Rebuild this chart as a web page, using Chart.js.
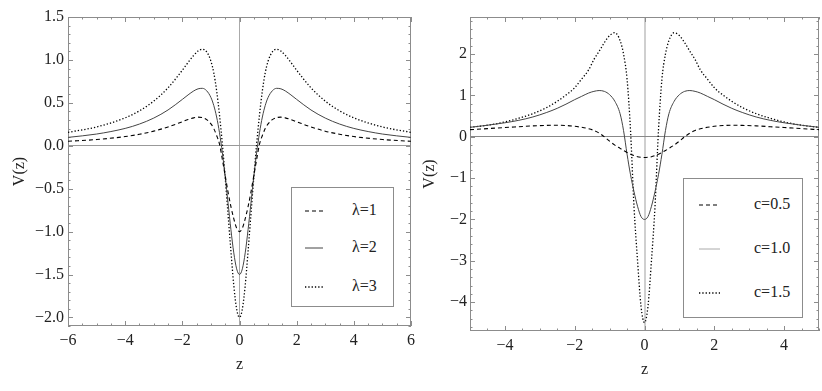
<!DOCTYPE html>
<html>
<head>
<meta charset="utf-8">
<script src="https://cdn.jsdelivr.net/npm/chart.js@4.4.1/dist/chart.umd.min.js"></script>
<style>
  body { margin: 0; background: #fff; }
  #wrap { position: relative; width: 822px; height: 391px; overflow: hidden; }
  canvas { position: absolute; top: 0; }
  .legend { position: absolute; border: 1px solid #8c8c8c; background: #fff; box-sizing: border-box; }
  .legend .row { position: absolute; left: 0; right: 0; height: 20px; }
  .legend svg { position: absolute; top: 4px; }
  .legend span { position: absolute; top: 0; line-height: 20px; font: 16px 'Liberation Serif', 'Times New Roman', serif; color: #222; white-space: nowrap; }
</style>
</head>
<body>
<div id="wrap">
  <canvas id="left" width="420" height="391" style="left:0"></canvas>
  <canvas id="right" width="402" height="391" style="left:420px"></canvas>
</div>
<script>
// left panel: V(z) for lambda = 1, 2, 3
const zLeft = [-6,-5,-4,-3.5,-3,-2.5,-2,-1.8,-1.6,-1.45,-1.3,-1.15,-1,-0.9,-0.8,-0.7,-0.6,-0.5,-0.4,-0.3,-0.2,-0.1,
  0,0.1,0.2,0.3,0.4,0.5,0.6,0.7,0.8,0.9,1,1.15,1.3,1.45,1.6,1.8,2,2.5,3,3.5,4,5,6];
const lambda1 = [0.052,0.0725,0.107,0.134,0.17,0.219,0.28,0.305,0.325,0.333,0.328,0.305,0.255,0.2,0.12,0.02,-0.16,-0.35,-0.54,-0.71,-0.85,-0.96,
  -1.0,-0.96,-0.85,-0.71,-0.54,-0.35,-0.16,0.02,0.12,0.2,0.255,0.305,0.328,0.333,0.325,0.305,0.28,0.219,0.17,0.134,0.107,0.0725,0.052];
const lambda2 = [0.0975,0.1365,0.202,0.253,0.3225,0.417,0.54,0.592,0.639,0.663,0.669,0.641,0.5625,0.469,0.335,0.152,-0.081,-0.36,-0.669,-0.978,-1.248,-1.434,
  -1.5,-1.434,-1.248,-0.978,-0.669,-0.36,-0.081,0.152,0.335,0.469,0.5625,0.641,0.669,0.663,0.639,0.592,0.54,0.417,0.3225,0.253,0.202,0.1365,0.0975];
const lambda3 = [0.156,0.219,0.325,0.407,0.52,0.675,0.88,0.97,1.054,1.103,1.125,1.095,0.985,0.85,0.64,0.36,0.02,-0.37,-0.8,-1.229,-1.627,-1.902,
  -2.0,-1.902,-1.627,-1.229,-0.8,-0.37,0.02,0.36,0.64,0.85,0.985,1.095,1.125,1.103,1.054,0.97,0.88,0.675,0.52,0.407,0.325,0.219,0.156];
const leftLabels = ['\u03bb=1', '\u03bb=2', '\u03bb=3'];
const leftXTicks = [-6, -4, -2, 0, 2, 4, 6];
const leftYTicks = [-2.0, -1.5, -1.0, -0.5, 0.0, 0.5, 1.0, 1.5];

// right panel: V(z) for c = 0.5, 1.0, 1.5
const zRight = [-5,-4.5,-4,-3.6,-3.2,-2.8,-2.5,-2.25,-2,-1.8,-1.6,-1.45,-1.3,-1.15,-1,-0.85,-0.7,-0.6,-0.5,-0.4,-0.3,-0.2,-0.1,
  0,0.1,0.2,0.3,0.4,0.5,0.6,0.7,0.85,1,1.15,1.3,1.45,1.6,1.8,2,2.25,2.5,2.8,3.2,3.6,4,4.5,5];
const c05 = [0.173,0.198,0.225,0.245,0.265,0.276,0.28,0.273,0.255,0.23,0.195,0.155,0.09,0.0,-0.105,-0.2,-0.28,-0.333,-0.378,-0.42,-0.455,-0.483,-0.495,
  -0.5,-0.495,-0.483,-0.455,-0.42,-0.378,-0.333,-0.28,-0.2,-0.105,0.0,0.09,0.155,0.195,0.23,0.255,0.273,0.28,0.276,0.265,0.245,0.225,0.198,0.173];
const c10 = [0.23,0.28,0.34,0.40,0.48,0.59,0.69,0.79,0.90,0.98,1.06,1.10,1.12,1.10,1.02,0.86,0.56,0.15,-0.42,-0.92,-1.33,-1.68,-1.93,
  -2.0,-1.93,-1.68,-1.33,-0.92,-0.42,0.15,0.56,0.86,1.02,1.10,1.12,1.10,1.06,0.98,0.90,0.79,0.69,0.59,0.48,0.40,0.34,0.28,0.23];
const c15 = [0.23,0.28,0.36,0.45,0.56,0.71,0.86,1.01,1.19,1.40,1.62,1.87,2.07,2.28,2.45,2.52,2.33,2.0,1.4,0.15,-1.7,-2.99,-4.1,
  -4.5,-4.1,-2.99,-1.7,0.15,1.4,2.0,2.33,2.52,2.45,2.28,2.07,1.87,1.62,1.40,1.19,1.01,0.86,0.71,0.56,0.45,0.36,0.28,0.23];
const rightLabels = ['c=0.5', 'c=1.0', 'c=1.5'];
const rightXTicks = [-4, -2, 0, 2, 4];
const rightYTicks = [-4, -3, -2, -1, 0, 1, 2];

const SERIF = "'Liberation Serif', 'Times New Roman', serif";
Chart.defaults.font.family = SERIF;
Chart.defaults.font.size = 16;
Chart.defaults.color = '#222';

const styles = [
  { borderColor: '#000', borderWidth: 1.1, borderDash: [4, 3] },
  { borderColor: '#444', borderWidth: 1, borderDash: [] },
  { borderColor: '#000', borderWidth: 1.3, borderDash: [1.3, 2] }
];

function pts(xs, ys) { return xs.map((x, i) => ({ x: x, y: ys[i] })); }
const minus = s => String(s).replace('-', '\u2212');

// frame with inside ticks on all four sides (Mathematica style)
const frameTicks = {
  id: 'frameTicks',
  beforeDatasetsDraw(chart, args, o) {
    const { ctx, chartArea: a, scales: { x, y } } = chart;
    ctx.save();
    ctx.strokeStyle = '#8c8c8c';
    ctx.lineWidth = 1;
    ctx.strokeRect(Math.round(a.left) + 0.5, Math.round(a.top) + 0.5,
      Math.round(a.right - a.left) - 1, Math.round(a.bottom - a.top) - 1);
    ctx.beginPath();
    const each = (min, max, step, major, fn) => {
      for (let k = Math.ceil(min / step - 1e-9); k * step <= max + 1e-9; k++) {
        const v = k * step;
        const isMajor = Math.abs(v / major - Math.round(v / major)) < 1e-6;
        fn(v, isMajor ? 5 : 2.5);
      }
    };
    each(x.min, x.max, o.xMinor, o.xMajor, (v, len) => {
      const px = Math.round(x.getPixelForValue(v)) + 0.5;
      ctx.moveTo(px, a.bottom); ctx.lineTo(px, a.bottom - len);
      ctx.moveTo(px, a.top); ctx.lineTo(px, a.top + len);
    });
    each(y.min, y.max, o.yMinor, o.yMajor, (v, len) => {
      const py = Math.round(y.getPixelForValue(v)) + 0.5;
      ctx.moveTo(a.left, py); ctx.lineTo(a.left + len, py);
      ctx.moveTo(a.right, py); ctx.lineTo(a.right - len, py);
    });
    ctx.stroke();
    ctx.restore();
  }
};

function makeChart(id, cfg) {
  const datasets = cfg.series.map((ys, i) => Object.assign({
    label: cfg.labels[i],
    data: pts(cfg.xs, ys),
    pointRadius: 0,
    fill: false,
    cubicInterpolationMode: 'monotone'
  }, styles[i]));
  return new Chart(document.getElementById(id), {
    type: 'line',
    data: { datasets: datasets },
    plugins: [frameTicks],
    options: {
      responsive: false,
      animation: false,
      events: [],
      layout: { padding: cfg.padding },
      plugins: {
        legend: { display: false },
        tooltip: { enabled: false },
        frameTicks: cfg.ticks
      },
      scales: {
        x: {
          type: 'linear', min: cfg.xMin, max: cfg.xMax,
          afterBuildTicks: s => { s.ticks = cfg.xTicks.map(v => ({ value: v })); },
          ticks: { padding: cfg.xPad, maxRotation: 0, autoSkip: false,
            callback: v => minus(v) },
          grid: { drawTicks: false, lineWidth: cfg.zeroV.w,
            color: c => (c.tick && Math.abs(c.tick.value) < 1e-9) ? cfg.zeroV.c : 'rgba(0,0,0,0)' },
          border: { display: false },
          title: { display: true, text: 'z', padding: { top: 0, bottom: cfg.xTitlePad } },
          afterFit: s => { s.height = cfg.xHeight; }
        },
        y: {
          type: 'linear', min: cfg.yMin, max: cfg.yMax,
          afterBuildTicks: s => { s.ticks = cfg.yTicks.map(v => ({ value: v })); },
          ticks: { padding: cfg.yPad, autoSkip: false,
            callback: v => minus(cfg.yFmt(v)) },
          grid: { drawTicks: false, lineWidth: 1,
            color: c => (c.tick && Math.abs(c.tick.value) < 1e-9) ? cfg.zeroH : 'rgba(0,0,0,0)' },
          border: { display: false },
          title: { display: true, text: 'V(z)', padding: { top: cfg.yTitlePad, bottom: 0 } },
          afterFit: s => { s.width = cfg.yWidth; }
        }
      }
    }
  });
}

function makeLegend(chart, box) {
  const wrap = document.getElementById('wrap');
  const div = document.createElement('div');
  div.className = 'legend';
  div.style.left = box.x + 'px';
  div.style.top = box.y + 'px';
  div.style.width = box.w + 'px';
  div.style.height = box.h + 'px';
  chart.data.datasets.forEach((ds, i) => {
    const row = document.createElement('div');
    row.className = 'row';
    row.style.top = (box.rows[i] - box.y - 10) + 'px';
    const dash = ds.borderDash.length ? ds.borderDash.join(',') : 'none';
    row.innerHTML =
      '<svg width="' + box.lineW + '" height="12" style="left:' + box.lineX + 'px">' +
      '<line x1="0" y1="6" x2="' + box.lineW + '" y2="6" stroke="' + (box.colors ? box.colors[i] : ds.borderColor) +
      '" stroke-width="' + ds.borderWidth + '" stroke-dasharray="' + dash + '"/></svg>' +
      '<span style="left:' + box.textX + 'px">' + ds.label + '</span>';
    div.appendChild(row);
  });
  wrap.appendChild(div);
}

const leftChart = makeChart('left', {
  xs: zLeft, series: [lambda1, lambda2, lambda3], labels: leftLabels,
  xMin: -6, xMax: 6, yMin: -2.1, yMax: 1.5, xTicks: leftXTicks, yTicks: leftYTicks,
  yFmt: v => v.toFixed(1),
  padding: { top: 17, right: 8, bottom: 0, left: 0 },
  xHeight: 65, yWidth: 68, xPad: 5, yPad: 4, xTitlePad: 17, yTitlePad: 10,
  zeroV: { c: '#aaa', w: 1 }, zeroH: '#999',
  ticks: { xMinor: 0.5, xMajor: 2, yMinor: 0.1, yMajor: 0.5 }
});

const rightChart = makeChart('right', {
  xs: zRight, series: [c05, c10, c15], labels: rightLabels,
  xMin: -5, xMax: 5, yMin: -4.7, yMax: 2.9, xTicks: rightXTicks, yTicks: rightYTicks,
  yFmt: v => String(v),
  padding: { top: 17, right: 3, bottom: 0, left: 0 },
  xHeight: 60, yWidth: 50, xPad: 5, yPad: 3, xTitlePad: 12, yTitlePad: 0,
  zeroV: { c: '#cfcfcf', w: 2 }, zeroH: '#888',
  ticks: { xMinor: 0.5, xMajor: 2, yMinor: 0.2, yMajor: 1 }
});

makeLegend(leftChart, { x: 291, y: 187, w: 103, h: 120, rows: [210, 247, 286],
  lineX: 13, lineW: 18, textX: 60 });
makeLegend(rightChart, { x: 683, y: 178, w: 120, h: 140, rows: [204, 248, 292],
  lineX: 15, lineW: 21, textX: 70, colors: ['#000', '#aaa', '#000'] });
</script>
</body>
</html>
